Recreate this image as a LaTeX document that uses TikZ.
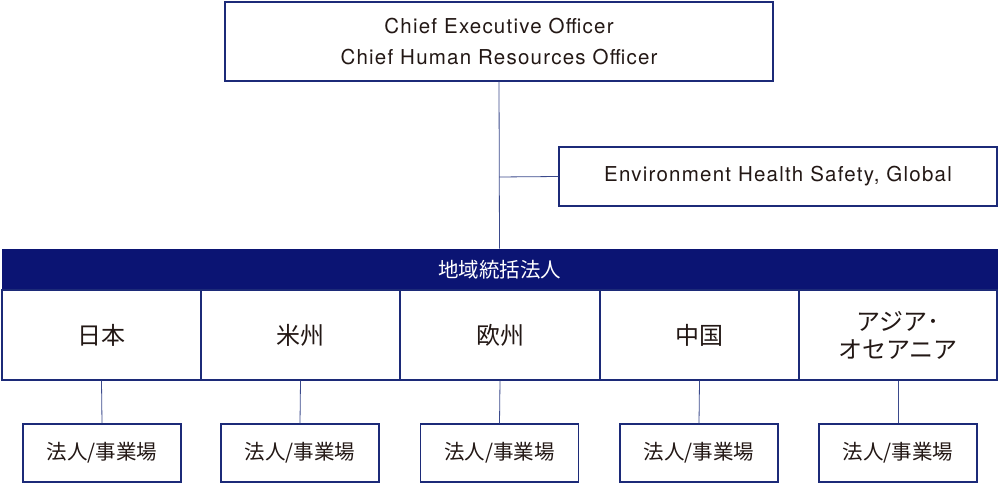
\documentclass[tikz,border=0pt]{standalone}
\usepackage{fontspec}
\setmainfont{TeX Gyre Heros}[LetterSpace=6]
\newfontfamily\cjk{Noto Sans CJK JP}
\definecolor{navy}{HTML}{0B1473}
\definecolor{edge}{HTML}{1C2A78}
\definecolor{conn}{HTML}{3B4A8C}
\definecolor{txt}{HTML}{231815}
\begin{document}
\begin{tikzpicture}[x=1pt,y=-1pt,
  box/.style={draw=edge,line width=1.4pt,fill=white,text=txt,inner sep=0pt},
  conn/.style={draw=conn,line width=0.8pt}]
\useasboundingbox (0,0) rectangle (1000,484);
% top
\node[box,minimum width=548pt,minimum height=79pt,align=center,font=\fontsize{20.5}{31}\selectfont] (ceo) at (499,41.5)
  {Chief Executive Officer\\Chief Human Resources Officer};
\node[box,minimum width=438pt,minimum height=59pt,font=\fontsize{20.5}{20}\selectfont] (ehs) at (778,176.5)
  {Environment Health Safety, Global};
% bar
\node[draw=navy,fill=navy,line width=0.8pt,minimum width=995pt,minimum height=41pt,inner sep=0pt,text=white,font=\cjk\fontsize{20.5}{22}\selectfont] (bar) at (499.5,269.5) {地域統括法人};
\coordinate (j) at (499,177);
\draw[conn] (ceo.south) -- (bar.north);
\draw[conn] (j) -- (ehs.west);
% regions
\foreach \n/\x/\w/\t in {r1/101.5/199/日本, r2/300.5/199/米州, r3/500/200/欧州, r4/699.5/199/中国}{
  \node[box,minimum width=\w pt,minimum height=90pt,font=\cjk\fontsize{24}{28}\selectfont] (\n) at (\x,335) {\t};
}
\node[box,minimum width=198pt,minimum height=90pt,align=center,font=\cjk\fontsize{24}{28}\selectfont] (r5) at (898,335) {アジア･\\オセアニア};
% subs
\foreach \n/\x/\r in {s1/102/r1, s2/300/r2, s3/499.5/r3, s4/699/r4, s5/898/r5}{
  \node[box,minimum width=158pt,minimum height=58pt,font=\cjk\fontsize{20.5}{22}\selectfont] (\n) at (\x,453) {法人/事業場};
  \draw[conn] (\r.south) -- (\n.north);
}
\end{tikzpicture}
\end{document}
